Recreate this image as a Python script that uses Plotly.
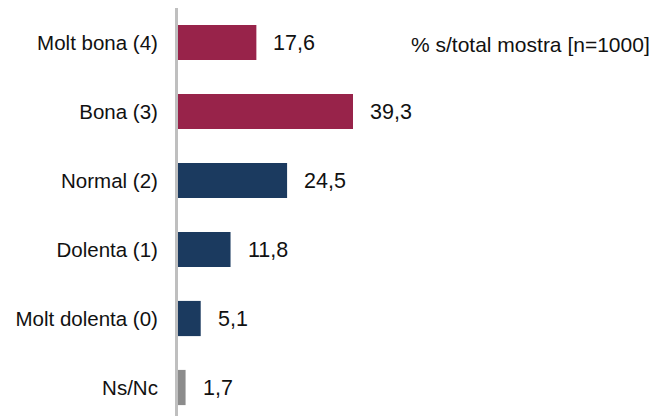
import plotly.graph_objects as go

categories = ["Molt bona (4)", "Bona (3)", "Normal (2)", "Dolenta (1)", "Molt dolenta (0)", "Ns/Nc"]
values = [17.6, 39.3, 24.5, 11.8, 5.1, 1.7]
value_labels = ["17,6", "39,3", "24,5", "11,8", "5,1", "1,7"]
colors = ["#98234A", "#98234A", "#1B3A5F", "#1B3A5F", "#1B3A5F", "#8C8C8C"]
note = "% s/total mostra [n=1000]"

cats_rev = categories[::-1]
vals_rev = values[::-1]
labs_rev = value_labels[::-1]
cols_rev = colors[::-1]

fig = go.Figure()
fig.add_trace(go.Bar(
    y=cats_rev, x=vals_rev, orientation="h",
    marker=dict(color=cols_rev, line=dict(width=0)),
    hoverinfo="skip",
))

for c, v, t in zip(cats_rev, vals_rev, labs_rev):
    fig.add_annotation(x=v, y=c, text=t, showarrow=False, xanchor="left",
                       xshift=15, font=dict(size=21.5, color="#111111"))

fig.add_annotation(xref="paper", yref="y", x=1.0, y=categories[0], text=note,
                   showarrow=False, xanchor="right", xshift=2, yshift=-2,
                   font=dict(size=21, color="#111111"))

fig.update_layout(
    width=652, height=408,
    margin=dict(l=170, r=10, t=0, b=0),
    paper_bgcolor="white", plot_bgcolor="white",
    font=dict(family="Liberation Sans, Arial, sans-serif", size=20.5, color="#111111"),
    bargap=0.49,
    showlegend=False,
    xaxis=dict(range=[0, 106], visible=False, showgrid=False, zeroline=False),
    yaxis=dict(range=[-0.413, 5.5], showline=True, linecolor="#BFBFBF", linewidth=3,
               ticks="", showgrid=False, zeroline=False, ticklabelstandoff=13,
               automargin=False, tickfont=dict(size=20.5, color="#111111")),
)

fig.write_html("out.html")
